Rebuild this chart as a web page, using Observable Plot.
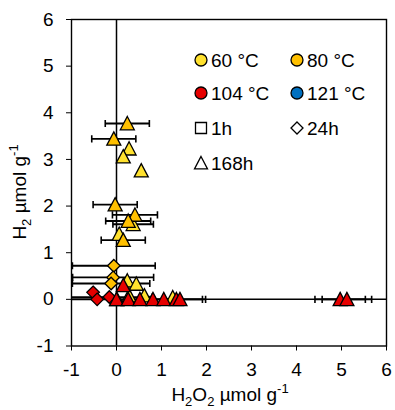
<!DOCTYPE html>
<html><head><meta charset="utf-8">
<script src="https://cdn.jsdelivr.net/npm/d3@7"></script>
<script src="https://cdn.jsdelivr.net/npm/@observablehq/plot@0.6"></script>
<style>
html,body{margin:0;padding:0;background:#fff;}
#chart{position:relative;width:395px;height:410px;}
svg{font-family:"Liberation Sans",Arial,sans-serif;}
</style></head><body><div id="chart"></div>
<script>
// ---- data ----
const temps = ["60 °C", "80 °C", "104 °C", "121 °C"];
const tempColors = ["#FFE12E", "#FFC000", "#E60000", "#0070C0"];
const times = ["1h", "24h", "168h"];
const xTicks = [-1, 0, 1, 2, 3, 4, 5, 6];
const yTicks = [-1, 0, 1, 2, 3, 4, 5, 6];

// each point: [H2O2 µmol/g, H2 µmol/g, H2O2 error]
const s80_24h = [[-0.06, 0.72, 0.92], [-0.075, 0.47, 0.9], [-0.12, 0.34, 0.86]];
const s104_24h = [[-0.52, 0.15, 0], [-0.43, 0.0, 1.0], [-0.16, 0.05, 0.95]];
const s60_168h = [[0.28, 3.23, 0], [0.15, 3.06, 0], [0.55, 2.76, 0], [0.37, 1.61, 0.45],
  [0.06, 1.40, 0], [0.24, 0.40, 0], [0.44, 0.33, 0], [0.28, 0.08, 0], [0.62, 0.08, 0], [1.25, 0.04, 0]];
const s80_168h = [[0.24, 3.77, 0.49], [-0.06, 3.44, 0.49], [-0.03, 2.03, 0.49], [0.41, 1.81, 0.5],
  [0.26, 1.68, 0.5], [0.15, 1.27, 0.49], [0.01, 0.0, 0]];
const s104_168h = [[0.15, 0.30, 0], [0.0, 0.0, 0], [0.26, 0.0, 0], [0.52, 0.0, 0], [0.81, 0.0, 0],
  [1.05, 0.0, 0], [1.33, 0.0, 0.58], [1.41, 0.0, 0.57], [4.97, 0.0, 0.56], [5.12, 0.0, 0.55]];

const series = [
  {temp: 1, time: 1, pts: s80_24h},
  {temp: 2, time: 1, pts: s104_24h},
  {temp: 0, time: 2, pts: s60_168h},
  {temp: 1, time: 2, pts: s80_168h},
  {temp: 2, time: 2, pts: s104_168h}
];

// ---- Excel-like marker symbols ----
const rad = size => Math.sqrt(size / Math.PI);
const symSquare = {draw(c, size) { const r = rad(size); c.rect(-r, -r, 2 * r, 2 * r); }};
const symDiamond = {draw(c, size) { const r = rad(size); c.moveTo(0, -r); c.lineTo(r, 0); c.lineTo(0, r); c.lineTo(-r, 0); c.closePath(); }};
const symTriangle = {draw(c, size) { const r = rad(size); c.moveTo(0, -r); c.lineTo(r, r * 0.9); c.lineTo(-r, r * 0.9); c.closePath(); }};
const symCap = {draw(c, size) { const r = rad(size); c.moveTo(0, -r); c.lineTo(0, r); }};
const timeSymbols = [symSquare, symDiamond, symTriangle];
const timeR = [5.5, 6.3, 7];

const errRows = series.flatMap(s => s.pts.filter(p => p[2] > 0).map(p => ({x: p[0], y: p[1], e: p[2]})));

const marks = [
  Plot.frame({stroke: "#000", strokeWidth: 1.4}),
  Plot.ruleX([0], {stroke: "#000", strokeWidth: 1.5}),
  Plot.ruleY([0], {stroke: "#000", strokeWidth: 1.5}),
  Plot.link(errRows, {x1: d => d.x - d.e, x2: d => d.x + d.e, y1: "y", y2: "y", stroke: "#000", strokeWidth: 1.8, clip: true}),
  Plot.dot(errRows, {x: d => d.x - d.e, y: "y", symbol: symCap, r: 3.6, fill: "none", stroke: "#000", strokeWidth: 1.6, clip: true}),
  Plot.dot(errRows, {x: d => d.x + d.e, y: "y", symbol: symCap, r: 3.6, fill: "none", stroke: "#000", strokeWidth: 1.6, clip: true}),
  ...series.map(s => Plot.dot(s.pts, {
    x: d => d[0], y: d => d[1], symbol: timeSymbols[s.time], r: timeR[s.time],
    fill: tempColors[s.temp], stroke: "#000", strokeWidth: 1.3
  })),
  Plot.axisX({ticks: xTicks, tickSize: 5, tickPadding: 11, fontSize: 19, label: null, tickFormat: d => d < 0 ? "-" + (-d) : String(d)}),
  Plot.axisY({ticks: yTicks, tickSize: 5, tickPadding: 13, fontSize: 19, label: null, tickFormat: d => d < 0 ? "-" + (-d) : String(d)})
];

const chart = Plot.plot({
  width: 395, height: 410,
  marginLeft: 71, marginRight: 9, marginTop: 19, marginBottom: 64.5,
  style: {fontFamily: '"Liberation Sans", Arial, sans-serif', color: "#000", background: "#fff", overflow: "visible"},
  x: {domain: [-1, 6]},
  y: {domain: [-1, 6]},
  marks
});
document.getElementById("chart").appendChild(chart);

// ---- axis titles with sub/superscripts ----
const svg = d3.select(chart);
function rich(g, parts) {
  parts.forEach(([t, kind]) => {
    const ts = g.append("tspan").text(t);
    if (kind === "sub") ts.attr("font-size", 13).attr("dy", 5);
    else if (kind === "sup") ts.attr("font-size", 13).attr("dy", -8);
    else if (kind === "back-sub") ts.attr("dy", -5);
  });
}
const xl = svg.append("text").attr("x", 230).attr("y", 401).attr("text-anchor", "middle").attr("font-size", 19).attr("fill", "#000");
rich(xl, [["H"], ["2", "sub"], ["O", "back-sub"], ["2", "sub"], [" µmol g", "back-sub"], ["-1", "sup"]]);
const yl = svg.append("text").attr("transform", "translate(26,192) rotate(-90)").attr("text-anchor", "middle").attr("font-size", 19).attr("fill", "#000");
rich(yl, [["H"], ["2", "sub"], [" µmol g", "back-sub"], ["-1", "sup"]]);

// ---- legend ----
const lg = svg.append("g").attr("font-size", 19).attr("fill", "#000").attr("text-anchor", "start");
const colX = [201, 297], rowY = [60, 93, 128, 163];
const legendItems = [
  ...temps.map((t, i) => ({label: t, sym: d3.symbolCircle, r: 6, fill: tempColors[i], col: i % 2, row: Math.floor(i / 2)})),
  ...times.map((t, i) => ({label: t, sym: [symSquare, symDiamond, symTriangle][i], r: [5.5, 6, 6.5][i], fill: "#fff", col: i % 2, row: 2 + Math.floor(i / 2)}))
];
legendItems.forEach(it => {
  const x = colX[it.col], y = rowY[it.row];
  lg.append("path").attr("transform", `translate(${x},${y})`)
    .attr("d", d3.symbol(it.sym, it.r * it.r * Math.PI)())
    .attr("fill", it.fill).attr("stroke", "#000").attr("stroke-width", 1.3);
  lg.append("text").attr("x", x + 10).attr("y", y + 7).attr("text-anchor", "start").text(it.label);
});
</script></body></html>
